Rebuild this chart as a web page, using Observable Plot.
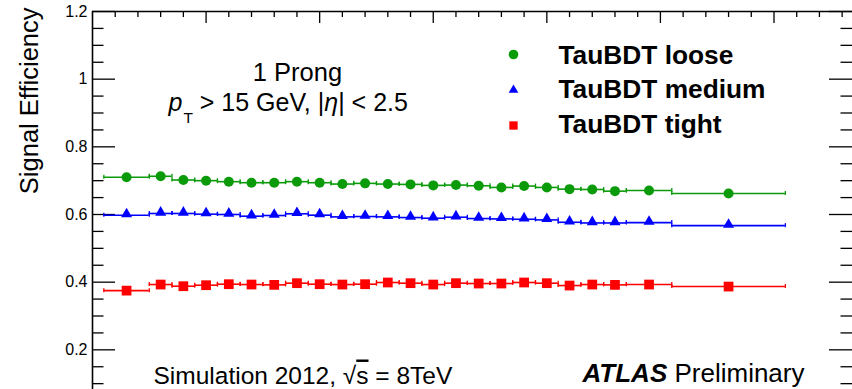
<!DOCTYPE html>
<html>
<head>
<meta charset="utf-8">
<script src="https://cdn.jsdelivr.net/npm/d3@7"></script>
<script src="https://cdn.jsdelivr.net/npm/@observablehq/plot@0.6"></script>
<style>
  html, body { margin: 0; padding: 0; background: #fff; }
  #chart svg { display: block; overflow: hidden; }
</style>
</head>
<body>
<div id="chart"></div>
<script>
// Bin edges (number of reconstructed vertices), shared by the three working points
const binLow  = [0.5, 2.5, 3.5, 4.5, 5.5, 6.5, 7.5, 8.5, 9.5, 10.5, 11.5, 12.5,
                 13.5, 14.5, 15.5, 16.5, 17.5, 18.5, 19.5, 20.5, 21.5, 22.5, 23.5, 25.5];
const binHigh = [2.5, 3.5, 4.5, 5.5, 6.5, 7.5, 8.5, 9.5, 10.5, 11.5, 12.5, 13.5,
                 14.5, 15.5, 16.5, 17.5, 18.5, 19.5, 20.5, 21.5, 22.5, 23.5, 25.5, 30.5];

// Signal efficiency per bin
const effLoose  = [0.710, 0.713, 0.702, 0.700, 0.697, 0.694, 0.694, 0.697, 0.694, 0.690, 0.692, 0.690,
                   0.689, 0.686, 0.687, 0.685, 0.680, 0.684, 0.680, 0.675, 0.674, 0.669, 0.671, 0.662];
const effMedium = [0.598, 0.603, 0.603, 0.601, 0.600, 0.595, 0.597, 0.602, 0.598, 0.593, 0.594, 0.593,
                   0.591, 0.589, 0.592, 0.588, 0.587, 0.586, 0.584, 0.577, 0.575, 0.575, 0.576, 0.567];
const effTight  = [0.375, 0.393, 0.388, 0.391, 0.394, 0.393, 0.392, 0.397, 0.394, 0.393, 0.394, 0.399,
                   0.397, 0.393, 0.397, 0.396, 0.396, 0.399, 0.397, 0.390, 0.393, 0.392, 0.393, 0.387];

const seriesNames = ["TauBDT loose", "TauBDT medium", "TauBDT tight"];

// Axis ticks
const yMajor = [0.2, 0.4, 0.6, 0.8, 1.0, 1.2];
const yTickLabels = ["0.2", "0.4", "0.6", "0.8", "1", "1.2"];
const yMinor = [0.05, 0.1, 0.15, 0.25, 0.3, 0.35, 0.45, 0.5, 0.55, 0.65, 0.7, 0.75,
                0.85, 0.9, 0.95, 1.05, 1.1, 1.15];
const xMajor = [5, 10, 15, 20, 25, 30];
const xMinor = [1, 2, 3, 4, 6, 7, 8, 9, 11, 12, 13, 14, 16, 17, 18, 19, 21, 22, 23, 24,
                26, 27, 28, 29, 31, 32, 33];

const FONT = "'Liberation Sans', Arial, Helvetica, sans-serif";
const W = 852, H = 389, ML = 92, MT = 11;
const frameW = W - ML, frameH = H - MT;

const styles = [
  {data: effLoose,  color: "#0a9a0a", symbol: "circle",   r: 5.0, lr: 4.8, dy: 0},
  {data: effMedium, color: "#0000ff", symbol: "triangle", r: 4.1, lr: 3.6, dy: -1},
  {data: effTight,  color: "#ff0000", symbol: "square",   r: 5.5, lr: 4.7, dy: 0}
];

const seriesMarks = styles.flatMap((s, k) => {
  const rows = binLow.map((lo, i) => ({lo, hi: binHigh[i], mid: (lo + binHigh[i]) / 2, v: s.data[i]}));
  return [
    Plot.ruleY(rows, {y: "v", x1: "lo", x2: "hi", stroke: s.color, strokeWidth: 1.6}),
    Plot.ruleX(rows, {x: "lo", y1: "v", y2: "v", insetTop: -2, insetBottom: -2, stroke: s.color, strokeWidth: 1.3}),
    Plot.ruleX(rows, {x: "hi", y1: "v", y2: "v", insetTop: -2, insetBottom: -2, stroke: s.color, strokeWidth: 1.3}),
    Plot.dot(rows, {x: "mid", y: "v", symbol: s.symbol, r: s.r, fill: s.color, stroke: null, dy: s.dy})
  ];
});

const legendMarks = styles.flatMap((s, k) => [
  Plot.dot([seriesNames[k]], {frameAnchor: "top-left", dx: 513 - ML, dy: 54 - MT + k * 35.5,
    symbol: s.symbol, r: s.lr, fill: s.color, stroke: null}),
  Plot.text([seriesNames[k]], {frameAnchor: "top-left", dx: 558 - ML, dy: 63 - MT + k * 34.5,
    textAnchor: "start", lineAnchor: "bottom", fontSize: 26.3, fontWeight: "bold", fill: "#000"})
]);

const ptText = "pT > 15 GeV, |η| < 2.5";
const simText = "Simulation 2012, √s = 8TeV";
const atlasText = "ATLAS Preliminary";

const chart = Plot.plot({
  width: W, height: H,
  marginLeft: ML, marginTop: MT, marginRight: 0, marginBottom: 0,
  x: {domain: [0, 33.5], range: [ML, 853], axis: null},
  y: {domain: [0, 1.2], range: [417, MT], axis: null},
  style: {fontFamily: FONT, background: "#fff", color: "#000"},
  marks: [
    // frame (left, top, right)
    Plot.ruleX([0], {stroke: "#000", strokeWidth: 1.6}),
    Plot.ruleX([33.5], {stroke: "#000", strokeWidth: 1.6}),
    Plot.ruleY([1.2], {stroke: "#000", strokeWidth: 1.6}),
    // left and right ticks
    Plot.tickY(yMajor, {y: d => d, insetRight: frameW - 23, stroke: "#000", strokeWidth: 1.3}),
    Plot.tickY(yMinor, {y: d => d, insetRight: frameW - 11.5, stroke: "#000", strokeWidth: 1.3}),
    Plot.tickY(yMajor, {y: d => d, insetLeft: frameW - 23, stroke: "#000", strokeWidth: 1.3}),
    Plot.tickY(yMinor, {y: d => d, insetLeft: frameW - 11.5, stroke: "#000", strokeWidth: 1.3}),
    // top ticks
    Plot.tickX(xMajor, {x: d => d, insetBottom: frameH - 12, stroke: "#000", strokeWidth: 1.3}),
    Plot.tickX(xMinor, {x: d => d, insetBottom: frameH - 6, stroke: "#000", strokeWidth: 1.3}),
    // y tick labels and title
    Plot.text(yMajor, {y: d => d, text: (d, i) => yTickLabels[i], frameAnchor: "left",
      textAnchor: "end", dx: -5, fontSize: 16, fill: "#000"}),
    Plot.text(["Signal Efficiency"], {frameAnchor: "top-left", dx: 37 - ML, dy: 7 - MT, rotate: -90,
      textAnchor: "end", lineAnchor: "bottom", fontSize: 25.5, fill: "#000"}),
    // data
    ...seriesMarks,
    // legend
    ...legendMarks,
    // annotations
    Plot.text(["1 Prong"], {frameAnchor: "top-left", dx: 297 - ML, dy: 80 - MT,
      textAnchor: "middle", lineAnchor: "bottom", fontSize: 25.5, fill: "#000"}),
    Plot.text([ptText], {frameAnchor: "top-left", dx: 168 - ML, dy: 110 - MT,
      textAnchor: "start", lineAnchor: "bottom", fontSize: 25, fill: "#000"}),
    Plot.text([simText], {frameAnchor: "top-left", dx: 153 - ML, dy: 383 - MT,
      textAnchor: "start", lineAnchor: "bottom", fontSize: 24.5, fill: "#000"}),
    Plot.text([atlasText], {frameAnchor: "top-left", dx: 582 - ML, dy: 381 - MT,
      textAnchor: "start", lineAnchor: "bottom", fontSize: 26, fill: "#000"})
  ]
});

document.getElementById("chart").appendChild(chart);

// Rich text: italic p with subscript T, italic eta, radical over s, bold-italic ATLAS
const svg = d3.select(chart);
svg.selectAll("text").filter(function () { return this.textContent === ptText; }).each(function () {
  const t = d3.select(this).text(null);
  t.append("tspan").attr("font-style", "italic").text("p");
  t.append("tspan").attr("font-size", "62%").attr("dy", 12).attr("dx", 1).text("T");
  t.append("tspan").attr("dy", -12).text(" > 15 GeV, |");
  t.append("tspan").attr("font-style", "italic").text("η");
  t.append("tspan").text("| < 2.5");
});
svg.selectAll("text").filter(function () { return this.textContent === simText; }).each(function () {
  const t = d3.select(this).text(null);
  t.append("tspan").text("Simulation 2012, √");
  t.append("tspan").attr("text-decoration", "overline").text("s");
  t.append("tspan").text(" = 8TeV");
});
svg.selectAll("text").filter(function () { return this.textContent === atlasText; }).each(function () {
  const t = d3.select(this).text(null);
  t.append("tspan").attr("font-weight", "bold").attr("font-style", "italic").text("ATLAS");
  t.append("tspan").text(" Preliminary");
});
</script>
</body>
</html>
